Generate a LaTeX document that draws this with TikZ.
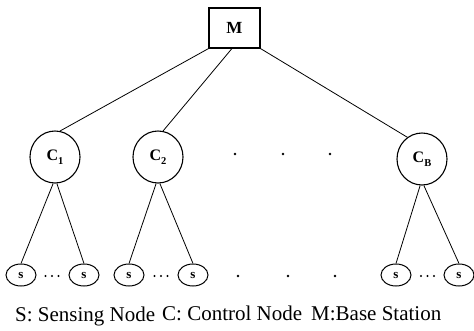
\documentclass[tikz,border=0pt]{standalone}
\usepackage{fontspec}
\setmainfont{Liberation Serif}
\usetikzlibrary{shapes.geometric,calc}
\begin{document}
\begin{tikzpicture}[x=1pt,y=-1pt,
  conn/.style={line width=0.8pt},
  boxnode/.style={draw,line width=1.2pt,minimum width=51pt,minimum height=40pt,inner sep=0pt,font=\fontsize{17}{17}\selectfont\bfseries},
  cnode/.style={draw,ellipse,line width=1.1pt,minimum width=50pt,minimum height=52pt,inner sep=0pt,font=\fontsize{16}{16}\selectfont\bfseries},
  snode/.style={draw,ellipse,line width=1pt,minimum width=30pt,minimum height=22pt,inner sep=0pt,font=\fontsize{13}{13}\selectfont\bfseries},
  dotmark/.style={fill,circle,inner sep=0pt,minimum size=2.6pt},
  smalldot/.style={fill,circle,inner sep=0pt,minimum size=2.3pt},
  captext/.style={anchor=base west,inner sep=0pt,font=\fontsize{21}{21}\selectfont}]
\useasboundingbox (0,0) rectangle (474,330);
\newcommand{\subtxt}[1]{\raisebox{-0.28em}{\fontsize{10.5}{10.5}\selectfont\bfseries #1}}
% nodes
\node[boxnode] (m) at (234.5,28) {M};
\node[cnode] (c1) at (55,157) {C\subtxt{1}};
\node[cnode] (c2) at (158,157) {C\subtxt{2}};
\node[cnode] (cb) at (422,159) {C\subtxt{B}};
\node[snode] (s1) at (21,275) {s};
\node[snode] (s2) at (84,275) {s};
\node[snode] (s3) at (129,275) {s};
\node[snode] (s4) at (193,275) {s};
\node[snode] (s5) at (396,275) {s};
\node[snode] (s6) at (459,275) {s};
\coordinate (mm) at ($(m.south west)!0.45!(m.south east)$);
% connectors
\draw[conn] (m.south west) -- (c1.79);
\draw[conn] (mm) -- (c2.79);
\draw[conn] (m.south east) -- (cb.124);
\draw[conn] (c1.266) -- (s1.north);
\draw[conn] (c1.274) -- (s2.north);
\draw[conn] (c2.266) -- (s3.north);
\draw[conn] (c2.274) -- (s4.north);
\draw[conn] (cb.266) -- (s5.north);
\draw[conn] (cb.274) -- (s6.north);
% dots
\node[dotmark] (d1) at (235,154) {};
\node[dotmark] (d2) at (283,154) {};
\node[dotmark] (d3) at (330,154) {};
\node[dotmark] (e1) at (238,276) {};
\node[dotmark] (e2) at (288,276) {};
\node[dotmark] (e3) at (335,276) {};
\foreach \x [count=\i] in {45.5,52,58.5} \node[smalldot] (fa\i) at (\x,276) {};
\foreach \x [count=\i] in {154.5,161,167.5} \node[smalldot] (fb\i) at (\x,276) {};
\foreach \x [count=\i] in {421,427.5,434} \node[smalldot] (fc\i) at (\x,276) {};
% caption
\node[captext] (t1) at (15,321) {S: Sensing Node};
\node[captext] (t2) at (162,320) {C: Control Node};
\node[captext] (t3) at (311,320) {M:Base Station};
\end{tikzpicture}
\end{document}
